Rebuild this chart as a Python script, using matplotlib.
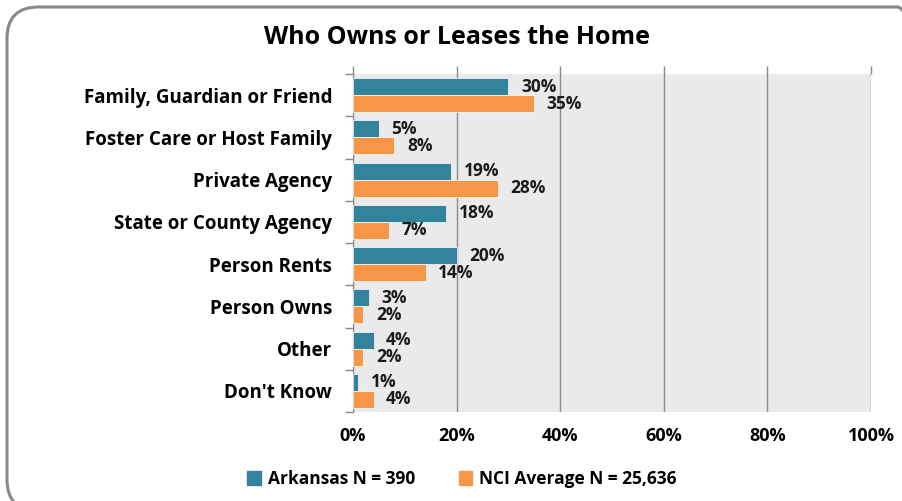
import numpy as np
import matplotlib
matplotlib.use('Agg')
import matplotlib.pyplot as plt
from matplotlib.patches import FancyBboxPatch, Patch

plt.rcParams['font.family'] = ['Open Sans', 'DejaVu Sans']
plt.rcParams['font.weight'] = 'bold'

categories = ['Family, Guardian or Friend', 'Foster Care or Host Family', 'Private Agency',
              'State or County Agency', 'Person Rents', 'Person Owns', 'Other', "Don't Know"]
arkansas = [30, 5, 19, 18, 20, 3, 4, 1]
nci = [35, 8, 28, 7, 14, 2, 2, 4]
xticks = [0, 20, 40, 60, 80, 100]

teal = '#31849B'
orange = '#F79646'

W, H = 902, 501
fig = plt.figure(figsize=(W / 100, H / 100), dpi=100)

# rounded frame round the chart
frame = FancyBboxPatch((7 / W, -10 / H), (W + 20) / W, (H + 3) / H,
                       boxstyle='round,pad=0,rounding_size=0.035',
                       transform=fig.transFigure, facecolor='none',
                       edgecolor='#888888', linewidth=2.2, mutation_aspect=W / H,
                       zorder=-1)
fig.patches.append(frame)

ax = fig.add_axes([353 / W, 1 - 412 / H, 518 / W, 338 / H])
ax.set_facecolor('#EAEAEA')

y = np.arange(len(categories))
h = 0.4
ax.barh(y - h / 2, arkansas, height=h, color=teal, edgecolor='white', linewidth=0.5, zorder=3)
ax.barh(y + h / 2, nci, height=h, color=orange, edgecolor='white', linewidth=0.5, zorder=3)

for i in range(len(categories)):
    ax.annotate(f'{arkansas[i]}%', (arkansas[i], y[i] - h / 2), xytext=(9, 0),
                textcoords='offset points', va='center', ha='left', fontsize=12.5,
                fontweight='bold', color='#1a1a1a', zorder=4)
    ax.annotate(f'{nci[i]}%', (nci[i], y[i] + h / 2), xytext=(9, 0),
                textcoords='offset points', va='center', ha='left', fontsize=12.5,
                fontweight='bold', color='#1a1a1a', zorder=4)

ax.set_xlim(0, 100)
ax.set_ylim(len(categories) - 0.5, -0.5)
ax.set_xticks(xticks)
ax.set_xticklabels([f'{t}%' for t in xticks], fontsize=13, fontweight='bold')
ax.set_yticks(y)
ax.set_yticklabels(categories, fontsize=13.5, fontweight='bold')
ax.tick_params(axis='y', length=0, pad=15)
# value-axis tick marks stick out above the plot area, labels stay below
ax.tick_params(axis='x', top=True, bottom=False, labeltop=False, labelbottom=True,
               length=6, color='#8c8c8c', width=1, pad=5, direction='out')
ax.set_yticks(np.arange(-0.5, len(categories)), minor=True)
ax.tick_params(axis='y', which='minor', length=6, color='#888888', width=1)
ax.grid(axis='x', color='#8c8c8c', linewidth=1, zorder=0)
ax.set_axisbelow(True)
for s in ['top', 'right', 'bottom']:
    ax.spines[s].set_visible(False)
ax.spines['left'].set_color('#888888')

fig.text(457 / W, 1 - 37 / H, 'Who Owns or Leases the Home', ha='center', va='center',
         fontsize=18, fontweight='bold')

handles = [Patch(color=teal, label='Arkansas N = 390'),
           Patch(color=orange, label='NCI Average N = 25,636')]
fig.legend(handles=handles, loc='center', bbox_to_anchor=(462 / W, 1 - 479 / H), ncol=2,
           frameon=False, handlelength=0.8, handleheight=0.8,
           handletextpad=0.4, columnspacing=2.5, prop={'weight': 'bold', 'size': 12.5})

fig.savefig('out.png', dpi=100)
